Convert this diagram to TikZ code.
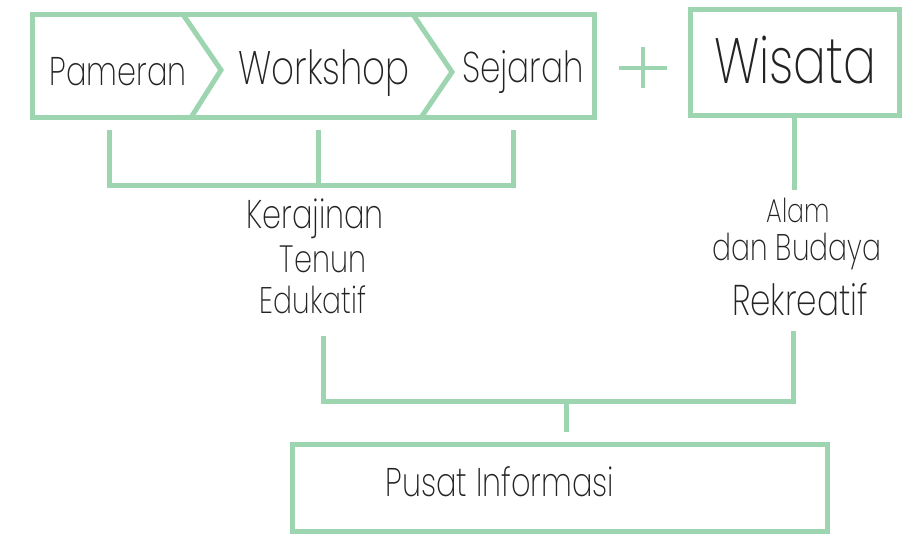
\documentclass[tikz,border=0pt]{standalone}
\usepackage{fontspec}
\setmainfont{Poppins ExtraLight}[FakeStretch=0.76]
\usetikzlibrary{positioning,calc}
\definecolor{dmint}{RGB}{157, 213, 176}
\definecolor{dink}{RGB}{35, 35, 35}
\tikzstyle{frame} = [rectangle, draw=dmint, line width=2.5pt, inner sep=0pt]
\tikzstyle{word} = [text=dink, inner sep=0pt, anchor=base]
\tikzstyle{line} = [draw=dmint, line width=2.5pt]
\begin{document}
\begin{tikzpicture}[x=0.5pt,y=-0.5pt]
  \useasboundingbox (0,0) rectangle (906,537);
  \node [frame, minimum width=281pt, minimum height=51.5pt] (panel) at (313.5,66) {};
  \path [line] (183,14.5) -- (221,70) -- (191,117.5);
  \path [line] (413,14.5) -- (452,72) -- (421,117.5);
  \node [word, font=\fontsize{20}{24}\selectfont] (pameran) at (118,85) {Pameran};
  \node [word, font=\fontsize{23.5}{28}\selectfont] (workshop) at (324,84) {Workshop};
  \node [word, font=\fontsize{21.5}{26}\selectfont] (sejarah) at (523,82) {Sejarah};

  \path [line, line width=2.2pt] (619,68) -- (667,68) (643,47) -- (643,88);
  \node [frame, minimum width=104.5pt, minimum height=53pt] (wisata) at (794.5,62.5) {};
  \node [word, font=\fontsize{32}{38}\selectfont] (wisatatext) at (795,83) {Wisata};

  \coordinate (b1) at (109,130);
  \coordinate (b2) at (318,130);
  \coordinate (b3) at (513,130);
  \coordinate (bl) at (109,185.5);
  \coordinate (br) at (513,185.5);
  \path [line] (b1) -- (bl) -- (br) -- (b3);
  \path [line] (b2) -- (b2 |- bl);
  \coordinate (w1) at (794.5,190);
  \path [line] (wisata.south) -- (w1);

  \node [word, font=\fontsize{20}{24}\selectfont] (kerajinan) at (315,228) {Kerajinan};
  \node [word, font=\fontsize{19}{23}\selectfont] (tenun) at (323,272) {Tenun};
  \node [word, font=\fontsize{18.5}{22}\selectfont] (edukatif) at (313,313) {Edukatif};
  \node [word, font=\fontsize{16.5}{20}\selectfont] (alam) at (798,222) {Alam};
  \node [word, font=\fontsize{18.5}{22}\selectfont] (budaya) at (797,260) {dan Budaya};
  \node [word, font=\fontsize{21.5}{26}\selectfont] (rekreatif) at (800,315) {Rekreatif};

  \coordinate (e1) at (323,336);
  \coordinate (el) at (323,401);
  \coordinate (rl) at (793,401);
  \coordinate (r1) at (793,331);
  \path [line] (e1) -- (el) -- (rl) -- (r1);
  \coordinate (m) at (566,432);
  \path [line] (m |- el) -- (m);

  \node [frame, minimum width=267.5pt, minimum height=43.5pt] (pusat) at (559.5,487.5) {};
  \node [word, font=\fontsize{20}{24}\selectfont] (pusattext) at (500,496) {Pusat Informasi};
\end{tikzpicture}
\end{document}
